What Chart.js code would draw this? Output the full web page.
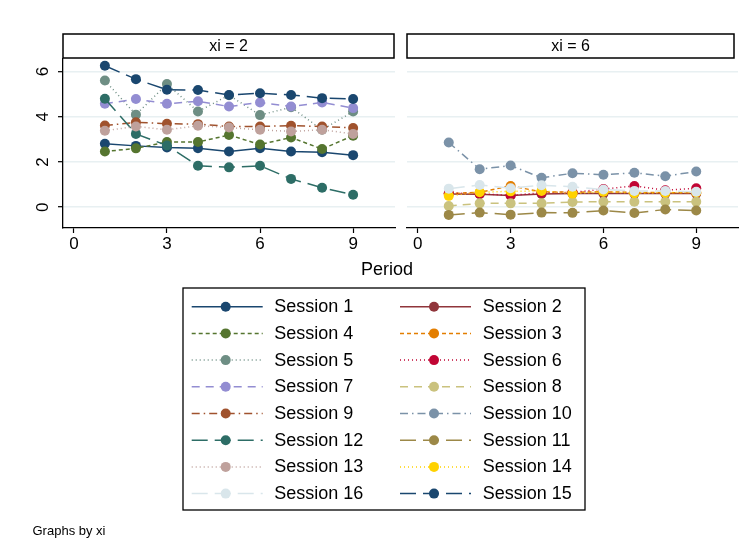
<!DOCTYPE html>
<html>
<head>
<meta charset="utf-8">
<script src="https://cdn.jsdelivr.net/npm/chart.js@4.4.1/dist/chart.umd.min.js"></script>
<style>
body { margin: 0; background: #fff; }
#wrap { position: relative; width: 753px; height: 554px; }
canvas { position: absolute; left: 0; top: 0; }
</style>
</head>
<body>
<div id="wrap">
<canvas id="left" width="753" height="554"></canvas>
<canvas id="right" width="753" height="554"></canvas>
</div>
<script>
const periods = [1, 2, 3, 4, 5, 6, 7, 8, 9];
const xTicks = [0, 3, 6, 9];
const yTicks = [0, 2, 4, 6];
const panelTitles = ['xi = 2', 'xi = 6'];

// xi = 2
const session1  = [2.80, 2.71, 2.64, 2.61, 2.46, 2.61, 2.46, 2.43, 2.30];
const session4  = [2.46, 2.60, 2.88, 2.88, 3.19, 2.77, 3.08, 2.57, 3.16];
const session5  = [5.60, 4.09, 5.44, 4.23, 4.95, 4.07, 4.42, 3.42, 4.23];
const session7  = [4.57, 4.78, 4.57, 4.68, 4.45, 4.63, 4.45, 4.63, 4.38];
const session9  = [3.61, 3.75, 3.69, 3.67, 3.57, 3.57, 3.60, 3.57, 3.50];
const session12 = [4.79, 3.24, 2.73, 1.83, 1.76, 1.83, 1.25, 0.86, 0.55];
const session13 = [3.38, 3.57, 3.42, 3.60, 3.52, 3.42, 3.35, 3.42, 3.24];
const session15 = [6.25, 5.66, 5.19, 5.18, 4.96, 5.04, 4.96, 4.82, 4.78];

// xi = 6
const session2  = [0.58, 0.57, 0.52, 0.58, 0.60, 0.60, 0.60, 0.60, 0.60];
const session3  = [0.60, 0.66, 0.94, 0.68, 0.66, 0.68, 0.66, 0.64, 0.64];
const session6  = [0.62, 0.60, 0.52, 0.64, 0.65, 0.80, 0.94, 0.75, 0.84];
const session8  = [0.05, 0.17, 0.17, 0.17, 0.23, 0.24, 0.24, 0.24, 0.24];
const session10 = [2.86, 1.68, 1.84, 1.30, 1.50, 1.43, 1.52, 1.37, 1.58];
const session11 = [-0.34, -0.24, -0.33, -0.24, -0.25, -0.15, -0.26, -0.10, -0.15];
const session14 = [0.50, 0.66, 0.70, 0.72, 0.60, 0.68, 0.62, 0.64, 0.66];
const session16 = [0.82, 0.98, 0.84, 0.97, 0.90, 0.78, 0.72, 0.72, 0.68];

const values = {
    1: session1, 2: session2, 3: session3, 4: session4, 5: session5, 6: session6, 7: session7, 8: session8,
    9: session9, 10: session10, 11: session11, 12: session12, 13: session13, 14: session14, 15: session15, 16: session16
};
const panelOf = { 1: 0, 4: 0, 5: 0, 7: 0, 9: 0, 12: 0, 13: 0, 15: 0, 2: 1, 3: 1, 6: 1, 8: 1, 10: 1, 11: 1, 14: 1, 16: 1 };

// plot order = legend order, row by row
const legendOrder = [1, 2, 4, 3, 5, 6, 7, 8, 9, 10, 12, 11, 13, 14, 16, 15];
const palette = ['#1a476f', '#90353b', '#55752f', '#e37e00', '#6e8e84', '#c10534', '#938dd2', '#cac27e',
                 '#a0522d', '#7b92a8', '#2d6d66', '#9c8847', '#bfa19c', '#ffd200', '#d9e6eb', '#1a476f'];
const patterns = { solid: [], shortdash: [4, 3], dot: [1, 3], dash: [8, 6], dashdot: [8, 4, 1.5, 4], longdash: [16, 7] };
const plotPattern = ['solid', 'solid', 'shortdash', 'shortdash', 'dot', 'dot', 'dash', 'dash',
                     'dashdot', 'dashdot', 'longdash', 'longdash', 'dot', 'dot', 'longdash', 'longdash'];

const FONT = '"Liberation Sans", Arial, Helvetica, sans-serif';
Chart.defaults.font.family = FONT;

function makeDatasets(panel) {
    return legendOrder
        .map((s, p) => ({ s, p }))
        .filter(d => panelOf[d.s] === panel)
        .map(({ s, p }) => ({
            label: 'Session ' + s,
            data: periods.map((x, i) => ({ x: x, y: values[s][i] })),
            borderColor: palette[p],
            backgroundColor: palette[p],
            pointBackgroundColor: palette[p],
            borderDash: patterns[plotPattern[p]],
            borderWidth: 1.5,
            pointRadius: 5,
            pointBorderWidth: 0,
            tension: 0,
            order: -p
        }));
}

function makeScales(showY) {
    return {
        x: {
            type: 'linear', min: -0.35, max: 10.35,
            afterBuildTicks: s => { s.ticks = xTicks.map(v => ({ value: v })); },
            afterFit: s => { s.height = 30; },
            grid: { drawOnChartArea: false, tickLength: 5, tickColor: '#000', tickWidth: 1.2 },
            border: { color: '#000', width: 1.3 },
            ticks: { color: '#000', font: { size: 17 }, padding: 1, maxRotation: 0 }
        },
        y: {
            type: 'linear', min: -0.92, max: 6.55,
            afterBuildTicks: s => { s.ticks = yTicks.map(v => ({ value: v })); },
            afterFit: s => { s.width = showY ? 30 : 0; },
            grid: { color: '#e8f0f2', lineWidth: 1.4, drawTicks: showY, tickLength: 5, tickColor: '#000', tickWidth: 1.2 },
            border: { display: showY, color: '#000', width: 1.3 },
            ticks: { display: showY, color: '#000', font: { size: 17 }, minRotation: 90, maxRotation: 90, crossAlign: 'center', padding: 10 }
        }
    };
}

// strip header over each panel
const strip = {
    id: 'strip',
    afterDraw(chart, args, opts) {
        const ctx = chart.ctx;
        ctx.save();
        ctx.fillStyle = '#fff';
        ctx.fillRect(opts.x0, 34, opts.x1 - opts.x0, 24);
        ctx.strokeStyle = '#000';
        ctx.lineWidth = 1.5;
        ctx.strokeRect(opts.x0, 34, opts.x1 - opts.x0, 24);
        ctx.fillStyle = '#000';
        ctx.font = '16px ' + FONT;
        ctx.textAlign = 'center';
        ctx.textBaseline = 'middle';
        ctx.fillText(opts.text, (opts.x0 + opts.x1) / 2, 46.5);
        ctx.restore();
    }
};

// axis title, legend and note
const decor = {
    id: 'decor',
    afterDraw(chart) {
        const ctx = chart.ctx;
        ctx.save();
        ctx.fillStyle = '#000';
        ctx.textBaseline = 'middle';
        ctx.font = '18px ' + FONT;
        ctx.textAlign = 'center';
        ctx.fillText('Period', 387, 270);

        ctx.strokeStyle = '#000';
        ctx.lineWidth = 1.3;
        ctx.strokeRect(183, 288, 402, 222);

        ctx.textAlign = 'left';
        legendOrder.forEach((s, p) => {
            const row = Math.floor(p / 2), col = p % 2;
            const y = 306.7 + row * 26.7;
            const x0 = col ? 400 : 191.7;
            ctx.strokeStyle = palette[p];
            ctx.lineWidth = 1.5;
            ctx.setLineDash(patterns[plotPattern[p]]);
            ctx.beginPath();
            ctx.moveTo(x0, y);
            ctx.lineTo(x0 + 71, y);
            ctx.stroke();
            ctx.setLineDash([]);
            ctx.fillStyle = palette[p];
            ctx.beginPath();
            ctx.arc(x0 + 34, y, 5, 0, Math.PI * 2);
            ctx.fill();
            ctx.fillStyle = '#000';
            ctx.fillText('Session ' + s, col ? 482.7 : 274.3, y + 0.5);
        });

        ctx.font = '13px ' + FONT;
        ctx.fillText('Graphs by xi', 32.5, 531.5);
        ctx.restore();
    }
};

function makeChart(id, panel, padding, x0, x1, extra) {
    return new Chart(document.getElementById(id), {
        type: 'line',
        data: { datasets: makeDatasets(panel) },
        options: {
            responsive: false,
            animation: false,
            devicePixelRatio: 1,
            layout: { padding: padding },
            scales: makeScales(panel === 0),
            plugins: {
                legend: { display: false },
                tooltip: { enabled: false },
                strip: { x0: x0, x1: x1, text: panelTitles[panel] }
            }
        },
        plugins: extra ? [strip, decor] : [strip]
    });
}

makeChart('left', 0, { left: 33, top: 59, right: 358, bottom: 296 }, 63, 394, false);
makeChart('right', 1, { left: 407, top: 59, right: 15, bottom: 296 }, 407, 734, true);
</script>
</body>
</html>
